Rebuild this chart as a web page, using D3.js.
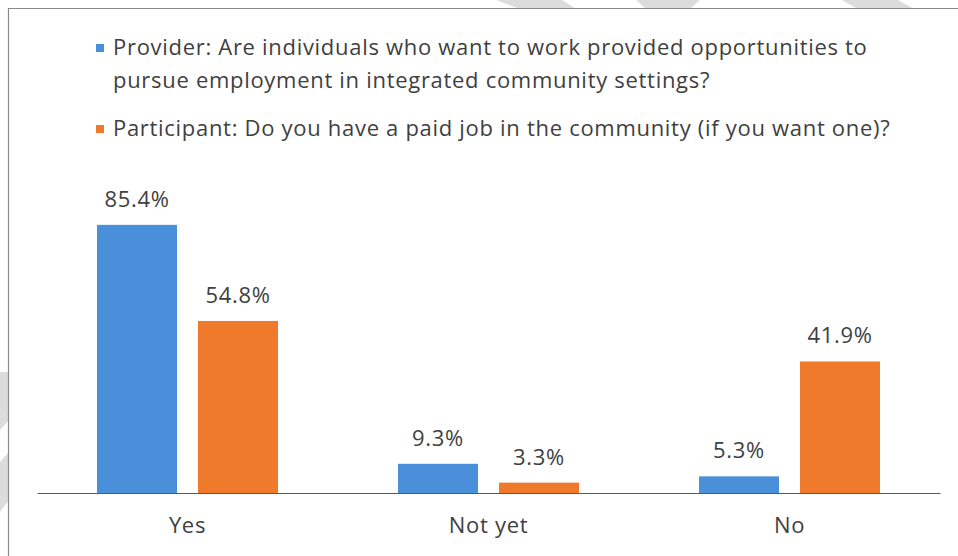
<!DOCTYPE html>
<html>
<head>
<meta charset="utf-8">
<script src="https://cdn.jsdelivr.net/npm/d3@7"></script>
<style>
  html, body { margin: 0; padding: 0; background: #fff; }
  svg { display: block; }
  text { font-family: "Open Sans", Lato, sans-serif; fill: #3f3f3f; letter-spacing: 0.7px; }
</style>
</head>
<body>
<svg id="chart" width="958" height="556"></svg>
<script>
// Survey answers, percent of respondents
const categories = ["Yes", "Not yet", "No"];
const seriesNames = ["Provider", "Participant"];
const providerValues = [85.4, 9.3, 5.3];
const participantValues = [54.8, 3.3, 41.9];
const legendLines = [
  ["Provider: Are individuals who want to work provided opportunities to",
   "pursue employment in integrated community settings?"],
  ["Participant: Do you have a paid job in the community (if you want one)?"]
];
const colors = ["#4a8fda", "#ef7a2b"];

const W = 958, H = 556;
const svg = d3.select("#chart");

// faint diagonal watermark bands sitting behind the panel
const bands = svg.append("g").attr("fill", "#dcdcdc");
[
  [[496, 0], [562, 0], [576, 9], [520, 9]],
  [[636, 0], [700, 0], [690, 9], [646, 9]],
  [[842, 0], [898, 0], [914, 9], [858, 9]],
  [[0, 372], [9, 372], [9, 418], [0, 412]],
  [[0, 412], [9, 418], [9, 420], [0, 430]],
  [[0, 462], [9, 452], [9, 500], [0, 512]]
].forEach(p => bands.append("polygon").attr("points", p.map(d => d.join(",")).join(" ")));

// chart panel
svg.append("rect").attr("x", 9).attr("y", 9).attr("width", W - 9).attr("height", H - 9)
  .attr("fill", "#fff");
svg.append("path").attr("d", `M8.5,${H} V8.5 H${W}`)
  .attr("fill", "none").attr("stroke", "#8a8a8a").attr("stroke-width", 1.2);

// scales
const x0 = d3.scaleBand().domain(categories).range([37, 940]);
const x1 = d3.scaleBand().domain(seriesNames).range([0, x0.bandwidth()])
  .paddingInner(0.208).paddingOuter(0.594);
const y = d3.scaleLinear().domain([0, 100]).range([493, 179]);

const rows = categories.map((c, i) => ({
  cat: c,
  vals: [
    { s: seriesNames[0], v: providerValues[i], k: 0 },
    { s: seriesNames[1], v: participantValues[i], k: 1 }
  ]
}));

const groups = svg.append("g").selectAll("g").data(rows).join("g")
  .attr("transform", d => `translate(${x0(d.cat)},0)`);

groups.selectAll("rect").data(d => d.vals).join("rect")
  .attr("x", d => x1(d.s))
  .attr("y", d => y(d.v))
  .attr("width", x1.bandwidth())
  .attr("height", d => y(0) - y(d.v))
  .attr("fill", d => colors[d.k]);

groups.selectAll("text.val").data(d => d.vals).join("text")
  .attr("class", "val")
  .attr("x", d => x1(d.s) + x1.bandwidth() / 2)
  .attr("y", d => y(d.v) - 18)
  .attr("text-anchor", "middle")
  .attr("font-size", 22)
  .text(d => d.v.toFixed(1) + "%");

// category axis
const xAxis = d3.axisBottom(x0).tickSize(0).tickPadding(24);
const ax = svg.append("g").attr("transform", `translate(0,${y(0)})`).call(xAxis);
ax.select(".domain").attr("stroke", "#595959").attr("stroke-width", 1.2);
ax.selectAll("text").attr("font-size", 22).attr("fill", "#3f3f3f")
  .style("font-family", "'Open Sans', Lato, sans-serif");

// legend
const legend = svg.append("g");
const legendTops = [55, 136];
legendLines.forEach((lines, i) => {
  legend.append("rect").attr("x", 96).attr("y", legendTops[i] - 11)
    .attr("width", 8).attr("height", 8).attr("fill", colors[i]);
  lines.forEach((t, j) => {
    legend.append("text").attr("x", 113).attr("y", legendTops[i] + j * 33)
      .attr("font-size", 22).text(t);
  });
});
</script>
</body>
</html>
